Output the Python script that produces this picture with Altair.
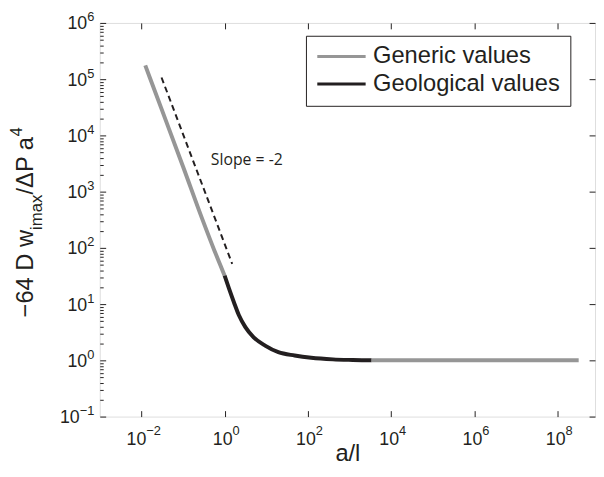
import json
import altair as alt
import pandas as pd

# ---------------- data ----------------
SERIES = ["Generic values", "Geological values"]
COLORS = ["#969696", "#231f20"]
INK = "#231f20"
FONT = "Liberation Sans"

GEN1_X = [0.0124, 0.03, 0.1, 0.3, 0.56, 0.8, 1.0]
GEN1_Y = [1.76e5, 3.05e4, 2.8e3, 305, 92, 48, 32]
GEO_X = [1.0, 1.27, 1.67, 2.19, 3.15, 4.98, 9.37, 19.5, 48, 120, 400, 1200, 3400]
GEO_Y = [32, 19, 10.8, 6.4, 3.9, 2.57, 1.83, 1.40, 1.22, 1.11, 1.04, 1.015, 1.0]
GEN2_X = [3400, 3.2e8]
GEN2_Y = [1.0, 1.0]

SLOPE_X = [0.0305, 1.52]
SLOPE_Y = [1.07e5, 52]

NOTE_TEXT = "Slope = -2"
NOTE_X = [0.466]
NOTE_Y = [3670]

X_DOMAIN = [1e-3, 7.9e8]
Y_DOMAIN = [0.1, 1e6]
X_TICKS = [1e-2, 1, 1e2, 1e4, 1e6, 1e8]
X_EXP = ["\u22122", "0", "2", "4", "6", "8"]
Y_TICKS = [0.1, 1, 10, 100, 1e3, 1e4, 1e5, 1e6]
Y_EXP = ["\u22121", "0", "1", "2", "3", "4", "5", "6"]
Y_MINOR = [m * 10.0 ** k for k in range(-1, 6) for m in range(2, 10)]

X_TITLE = "a/l"
Y_TITLE_PARTS = ["\u221264 D w", "imax", "/\u0394P a", "4"]

# ---------------- tables ----------------
rows = []
for xs, ys, s, seg in [(GEN1_X, GEN1_Y, SERIES[0], "g1"),
                       (GEO_X, GEO_Y, SERIES[1], "geo"),
                       (GEN2_X, GEN2_Y, SERIES[0], "g2")]:
    for x, y in zip(xs, ys):
        rows.append({"x": x, "y": y, "series": s, "seg": seg})
curve = pd.DataFrame(rows)
slope = pd.DataFrame({"x": SLOPE_X, "y": SLOPE_Y})
note = pd.DataFrame({"x": NOTE_X, "y": NOTE_Y, "t": [NOTE_TEXT]})

W, H = 502, 399
XSCALE = alt.Scale(type="log", domain=X_DOMAIN, nice=False)
YSCALE = alt.Scale(type="log", domain=Y_DOMAIN, nice=False)

x_exp_expr = json.dumps(X_EXP, ensure_ascii=False) + "[round(log(datum.value)/LN10/2) + 1]"
y_exp_expr = json.dumps(Y_EXP, ensure_ascii=False) + "[round(log(datum.value)/LN10) + 1]"


def ax(**kw):
    base = dict(grid=False, domain=False, labelFont=FONT, labelColor=INK,
                tickColor=INK, titleFont=FONT, titleColor=INK,
                titleFontWeight="normal", labelFlush=False, labelOverlap=False)
    base.update(kw)
    return alt.Axis(**base)


def ytitle(text, size, tx, ty):
    return dict(title=text, titleFontSize=size, titleAngle=270, titleX=tx,
                titleY=ty, titleAlign="left", titleBaseline="alphabetic")


AX_BASE = ax(orient="bottom", values=X_TICKS, labelExpr="'10'", ticks=False, tickSize=0,
             labelFontSize=18, labelAlign="left", labelBaseline="alphabetic", labelPadding=28,
             labelOffset={"condition": {"test": "datum.value < 1", "value": -15.5}, "value": -12.5},
             title=X_TITLE, titleFontSize=24, titleX=W / 2, titleY=45, titleAlign="center",
             titleBaseline="alphabetic")
AX_EXP = ax(orient="bottom", values=X_TICKS, labelExpr=x_exp_expr, ticks=False, tickSize=0,
            labelFontSize=13, labelAlign="left", labelBaseline="alphabetic", labelPadding=18,
            labelOffset={"condition": {"test": "datum.value < 1", "value": 4.5}, "value": 7.5},
            title=None)
AX_TICK_B = ax(orient="top", offset=-H, values=X_TICKS, labels=False, ticks=True,
               tickSize=6, tickWidth=1, title=None)
AX_TICK_T = ax(orient="bottom", offset=-H, values=X_TICKS, labels=False, ticks=True,
               tickSize=6, tickWidth=1, title=None)

AY_BASE = ax(orient="left", values=Y_TICKS, labelExpr="'10'", ticks=False, tickSize=0,
             labelFontSize=18, labelAlign="right", labelBaseline="alphabetic", labelOffset=6,
             labelPadding={"condition": {"test": "datum.value < 1", "value": 20.8}, "value": 13.2},
             **ytitle(Y_TITLE_PARTS[0], 24, -68, 298))
AY_EXP = ax(orient="left", values=Y_TICKS, labelExpr=y_exp_expr, ticks=False, tickSize=0,
            labelFontSize=13, labelAlign="right", labelBaseline="alphabetic", labelOffset=-2,
            labelPadding=6, **ytitle(Y_TITLE_PARTS[1], 17, -59, 209.3))
AY_TICK_L = ax(orient="right", offset=-W, values=Y_TICKS, labels=False, ticks=True,
               tickSize=6, tickWidth=1, **ytitle(Y_TITLE_PARTS[2], 24, -68, 173.4))
AY_MINOR = ax(orient="right", offset=-W, values=Y_MINOR, labels=False, ticks=True,
              tickSize=3.5, tickWidth=1, **ytitle(Y_TITLE_PARTS[3], 17, -79, 114.7))
AY_TICK_R = ax(orient="left", offset=-W, values=Y_TICKS, labels=False, ticks=True,
               tickSize=6, tickWidth=1, title=None)


def X(axis):
    return alt.X("x:Q", scale=XSCALE, axis=axis)


def Y(axis):
    return alt.Y("y:Q", scale=YSCALE, axis=axis)


legend = alt.Legend(title=None, orient="none", legendX=209, legendY=13,
                    symbolType="stroke", symbolSize=2401, symbolStrokeWidth=3,
                    clipHeight=22, rowPadding=4, padding=10, labelOffset=6,
                    labelFont=FONT, labelFontSize=24, labelColor=INK, labelLimit=400,
                    strokeColor=INK, fillColor="white")

l_curve = alt.Chart(curve).mark_line(strokeWidth=4, strokeCap="butt",
                                     interpolate="monotone").encode(
    x=X(AX_BASE), y=Y(AY_BASE),
    color=alt.Color("series:N", scale=alt.Scale(domain=SERIES, range=COLORS), legend=legend),
    detail="seg:N",
)
l_slope = alt.Chart(slope).mark_line(strokeWidth=2, strokeDash=[6, 4], color=INK).encode(
    x=X(AX_EXP), y=Y(AY_EXP))
l_note = alt.Chart(note).mark_text(align="left", baseline="middle", font="Open Sans",
                                   fontSize=16, color=INK).encode(
    x=X(AX_TICK_B), y=Y(AY_TICK_L), text="t:N")
l_h1 = alt.Chart(curve).mark_point(opacity=0, size=1).encode(x=X(AX_TICK_T), y=Y(AY_MINOR))
l_h2 = alt.Chart(curve).mark_point(opacity=0, size=1).encode(x=X(None), y=Y(AY_TICK_R))

chart = alt.layer(l_curve, l_slope, l_note, l_h1, l_h2).resolve_axis(
    x="independent", y="independent"
).properties(
    width=W, height=H,
    autosize=alt.AutoSizeParams(type="none"),
    padding={"left": 93, "top": 12, "right": 1, "bottom": 50},
).configure_view(stroke=INK, strokeWidth=1).configure(background="white")

chart.save("out.html", embed_options={"renderer": "svg", "actions": False})
